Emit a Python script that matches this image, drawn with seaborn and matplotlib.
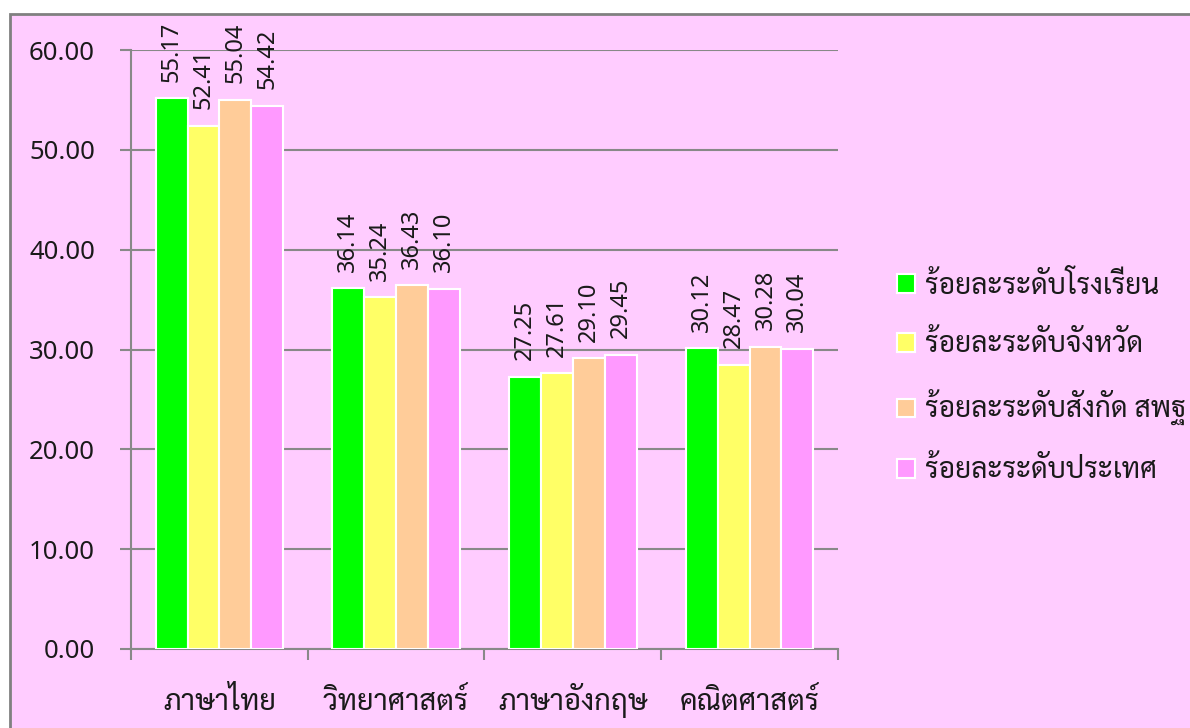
import matplotlib
matplotlib.use("Agg")
import matplotlib.pyplot as plt
import seaborn as sns
import pandas as pd
from matplotlib import font_manager as fm
from matplotlib.ft2font import FT2Font
from matplotlib.patches import Rectangle, Patch
from matplotlib.ticker import FixedLocator

subjects = ["ภาษาไทย", "วิทยาศาสตร์", "ภาษาอังกฤษ", "คณิตศาสตร์"]
levels = ["ร้อยละระดับโรงเรียน", "ร้อยละระดับจังหวัด", "ร้อยละระดับสังกัด สพฐ", "ร้อยละระดับประเทศ"]
school = [55.17, 36.14, 27.25, 30.12]
province = [52.41, 35.24, 27.61, 28.47]
obec = [55.04, 36.43, 29.10, 30.28]
nation = [54.42, 36.10, 29.45, 30.04]
yticks = [0, 10, 20, 30, 40, 50, 60]
colors = ["#00FF00", "#FFFF66", "#FFCC99", "#FF99FF"]
bg = "#FFCCFF"

# find fonts with Thai glyphs
cands = []
for f in fm.fontManager.ttflist:
    try:
        cm = FT2Font(f.fname).get_charmap()
        if 0x0E20 in cm and f.name not in cands:
            cands.append(f.name)
    except Exception:
        pass
prefs = ["Sarabun", "Noto Sans Thai Looped", "IBM Plex Sans Thai Looped", "Loma", "Noto Sans Thai"]
thai_font = next((p for p in prefs if p in cands), cands[0] if cands else None)
num_fam = ["Noto Sans", "DejaVu Sans"]
thai_fam = ([thai_font] if thai_font else []) + num_fam

sns.set_theme(style="white")
plt.rcParams["font.family"] = num_fam

df = pd.DataFrame({
    "subject": subjects * 4,
    "level": sum([[l] * 4 for l in levels], []),
    "value": school + province + obec + nation,
})

fig = plt.figure(figsize=(11.9, 7.28), dpi=100)
fig.patch.set_facecolor("white")
renderer = fig.canvas.get_renderer()


def fit_size(text, target_px, base=20.0):
    t = fig.text(0, 0, text, fontsize=base, family=thai_fam)
    w = t.get_window_extent(renderer).width
    t.remove()
    return base * target_px / w if w > 0 else base


legend_size = fit_size(levels[0], 234)
xlab_size = fit_size(subjects[1], 145)

frame = Rectangle((10 / 1190, -0.05), 1.05, 1 - 13.5 / 728 + 0.05,
                  transform=fig.transFigure, facecolor=bg,
                  edgecolor="#808080", linewidth=2, zorder=-10)
fig.patches.append(frame)
ax = fig.add_axes([131 / 1190, 1 - 649 / 728, (838 - 131) / 1190, (649 - 50) / 728])
ax.set_facecolor("none")
ax.set_zorder(5)

sns.barplot(data=df, x="subject", y="value", hue="level", palette=colors,
            saturation=1, width=0.72, edgecolor="white", linewidth=1.5,
            ax=ax, legend=False, zorder=3)

for cont in ax.containers:
    ax.bar_label(cont, fmt="%.2f", rotation=90, padding=12, fontsize=17,
                 color="#1a1a1a", family=num_fam)

ax.set_ylim(0, 60)
ax.set_xlim(-0.5, 3.5)
ax.set_yticks(yticks)
ax.set_yticklabels([f"{v:.2f}" for v in yticks], fontsize=18.5, color="#1a1a1a", family=num_fam)
ax.set_xticks(range(len(subjects)))
ax.set_xticklabels(subjects, fontsize=xlab_size, color="#1a1a1a", family=thai_fam,
                   va="baseline")
ax.yaxis.grid(True, color="#888888", linewidth=1.5, zorder=0)
ax.set_axisbelow(True)
ax.tick_params(axis="y", length=8, width=1.5, color="#888888", pad=18, left=True)
ax.xaxis.set_minor_locator(FixedLocator([-0.5, 0.5, 1.5, 2.5, 3.5]))
ax.tick_params(axis="x", which="minor", length=8, width=1.5, color="#888888", bottom=True)
ax.tick_params(axis="x", which="major", length=0, pad=44)
ax.set_xlabel("")
ax.set_ylabel("")
for s in ["top", "right"]:
    ax.spines[s].set_visible(False)
for s in ["left", "bottom"]:
    ax.spines[s].set_color("#888888")
    ax.spines[s].set_linewidth(1.5)

handles = [Patch(facecolor=c, edgecolor="white", linewidth=1.5) for c in colors]
fig.legend(handles, levels, loc="center left", bbox_to_anchor=(883 / 1190, 1 - 378 / 728),
           frameon=False, prop={"family": thai_fam, "size": legend_size},
           handlelength=18 / (legend_size * 100 / 72), handleheight=18 / (legend_size * 100 / 72),
           handletextpad=10 / (legend_size * 100 / 72), labelspacing=1.1, borderpad=0,
           labelcolor="#1a1a1a")

fig.savefig("out.png", dpi=100, facecolor="white")
